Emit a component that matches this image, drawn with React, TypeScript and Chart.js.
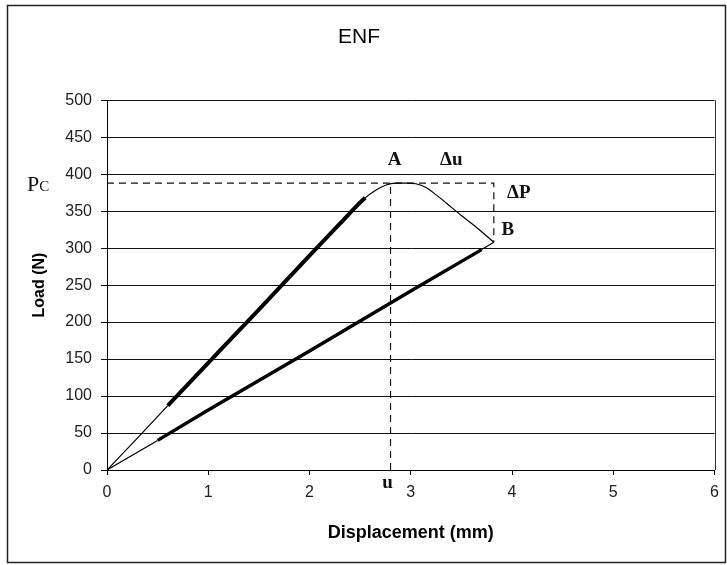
import React, { useEffect, useRef } from 'react';
import { Chart, registerables } from 'chart.js';

Chart.register(...registerables);

const TITLE = 'ENF';
const X_TITLE = 'Displacement (mm)';
const Y_TITLE = 'Load (N)';
const X_MIN = 0;
const X_MAX = 6;
const X_STEP = 1;
const Y_MIN = 0;
const Y_MAX = 500;
const Y_STEP = 50;

// Loading path: origin -> peak A -> point B
const LOAD_X = [0, 0.3, 0.6, 1.0, 1.5, 2.0, 2.3, 2.55, 2.65, 2.75, 2.85, 2.95, 3.05, 3.15, 3.25, 3.35, 3.5, 3.65, 3.82];
const LOAD_Y = [0, 43, 87, 145, 217, 290, 333, 368, 378, 385, 388, 388, 387, 382, 372, 361, 344, 328, 308];
// Unloading path: point B -> origin
const UNLOAD_X = [3.82, 3.7, 3.0, 2.0, 1.0, 0.5, 0];
const UNLOAD_Y = [308, 298, 242, 161, 81, 40, 0];

// Construction (dashed) lines
const PC = 388;
const U_CRIT = 2.8;
const B_X = 3.82;
const B_Y = 308;
const GUIDE_H_X = [0, B_X, B_X];
const GUIDE_H_Y = [PC, PC, B_Y];
const GUIDE_V_X = [U_CRIT, U_CRIT];
const GUIDE_V_Y = [0, PC];

const LABEL_A = 'A';
const LABEL_DU = 'Δu';
const LABEL_DP = 'ΔP';
const LABEL_B = 'B';
const LABEL_U = 'u';
const LABEL_P = 'P';
const LABEL_C = 'C';

const SANS = "'Liberation Sans', Arial, sans-serif";
const SERIF = "'Liberation Serif', 'Times New Roman', serif";

const toPts = (xs: number[], ys: number[]) => xs.map((x, i) => ({ x, y: ys[i] }));

const annotPlugin = {
  id: 'annot',
  beforeDraw(chart: any) {
    const { ctx, width, height } = chart;
    ctx.save();
    ctx.fillStyle = '#fff';
    ctx.fillRect(0, 0, width, height);
    ctx.restore();
  },
  afterDraw(chart: any) {
    const { ctx, chartArea } = chart;
    const xs = chart.scales.x;
    const ys = chart.scales.y;
    ctx.save();
    // outer frame
    ctx.strokeStyle = '#222';
    ctx.lineWidth = 1.5;
    ctx.strokeRect(7.5, 5.5, 718, 557);
    // plot area right border
    ctx.strokeStyle = '#333';
    ctx.lineWidth = 1;
    ctx.beginPath();
    ctx.moveTo(Math.round(chartArea.right) + 0.5, chartArea.top);
    ctx.lineTo(Math.round(chartArea.right) + 0.5, chartArea.bottom);
    ctx.stroke();

    ctx.fillStyle = '#111';
    ctx.textAlign = 'center';
    ctx.textBaseline = 'middle';
    ctx.font = `bold 19px ${SERIF}`;
    const pcY = ys.getPixelForValue(PC);
    const uX = xs.getPixelForValue(U_CRIT);
    const bX = xs.getPixelForValue(B_X);
    const bY = ys.getPixelForValue(B_Y);
    ctx.fillText(LABEL_A, uX + 4, pcY - 23);
    ctx.fillText(LABEL_DU, xs.getPixelForValue(3.4), pcY - 23);
    ctx.fillText(LABEL_DP, bX + 25, pcY + 10);
    ctx.fillText(LABEL_B, bX + 14, bY - 12);
    ctx.fillText(LABEL_U, uX - 3, ys.getPixelForValue(0) + 13);

    // Pc label
    ctx.textAlign = 'left';
    ctx.textBaseline = 'alphabetic';
    ctx.font = `22px ${SERIF}`;
    const px = chartArea.left - 80;
    ctx.fillText(LABEL_P, px, pcY + 8);
    const pw = ctx.measureText(LABEL_P).width;
    ctx.font = `15px ${SERIF}`;
    ctx.fillText(LABEL_C, px + pw, pcY + 8);
    ctx.restore();
  },
};

export default function App() {
  const ref = useRef<HTMLCanvasElement | null>(null);

  useEffect(() => {
    if (!ref.current) return;
    const chart = new Chart(ref.current, {
      type: 'scatter',
      data: {
        datasets: [
          {
            data: toPts(LOAD_X, LOAD_Y),
            showLine: true,
            borderColor: '#000',
            borderWidth: 1.2,
            pointRadius: 0,
            cubicInterpolationMode: 'monotone',
            segment: {
              borderWidth: (c: any) =>
                c.p0.parsed.x >= 0.6 && c.p1.parsed.x <= 2.56 ? 4 : 1.2,
            },
          } as any,
          {
            data: toPts(UNLOAD_X, UNLOAD_Y),
            showLine: true,
            borderColor: '#000',
            borderWidth: 1.2,
            pointRadius: 0,
            segment: {
              borderWidth: (c: any) =>
                c.p0.parsed.x <= 3.7 && c.p1.parsed.x >= 0.5 ? 3.4 : 1.2,
            },
          } as any,
          {
            data: toPts(GUIDE_H_X, GUIDE_H_Y),
            showLine: true,
            borderColor: '#111',
            borderWidth: 1.2,
            borderDash: [7, 5],
            pointRadius: 0,
          },
          {
            data: toPts(GUIDE_V_X, GUIDE_V_Y),
            showLine: true,
            borderColor: '#111',
            borderWidth: 1.2,
            borderDash: [7, 5],
            pointRadius: 0,
          },
        ],
      },
      options: {
        animation: false,
        responsive: false,
        maintainAspectRatio: false,
        layout: { padding: { left: 0, right: 9, top: 0, bottom: 0 } },
        plugins: {
          legend: { display: false },
          tooltip: { enabled: false },
          title: {
            display: true,
            text: TITLE,
            color: '#000',
            font: { family: SANS, size: 21, weight: 'normal' },
            padding: { top: 25, bottom: 50 },
          },
        },
        scales: {
          x: {
            type: 'linear',
            min: X_MIN,
            max: X_MAX,
            ticks: {
              stepSize: X_STEP,
              color: '#222',
              font: { family: SANS, size: 16 },
              padding: 8,
            },
            grid: { drawOnChartArea: false, drawTicks: true, tickLength: 5, color: '#000' },
            border: { color: '#000', width: 1 },
            title: {
              display: true,
              text: X_TITLE,
              color: '#000',
              font: { family: SANS, size: 18, weight: 'bold' },
              padding: { top: 0, bottom: 21 },
            },
            afterFit: (s: any) => {
              s.height = 95;
            },
          },
          y: {
            type: 'linear',
            min: Y_MIN,
            max: Y_MAX,
            ticks: {
              stepSize: Y_STEP,
              color: '#222',
              font: { family: SANS, size: 16 },
              padding: 9,
            },
            grid: { color: '#111', lineWidth: 1, tickLength: 6 },
            border: { color: '#000', width: 1 },
            title: {
              display: true,
              text: Y_TITLE,
              color: '#000',
              font: { family: SANS, size: 16, weight: 'bold' },
              padding: { top: 30, bottom: 0 },
            },
            afterFit: (s: any) => {
              s.width = 107;
            },
          },
        },
      } as any,
      plugins: [annotPlugin],
    });
    return () => chart.destroy();
  }, []);

  return (
    <div style={{ position: 'absolute', left: 0, top: 0, width: 727, height: 565 }}>
      <canvas ref={ref} width={727} height={565} style={{ display: 'block', width: 727, height: 565 }} />
    </div>
  );
}
